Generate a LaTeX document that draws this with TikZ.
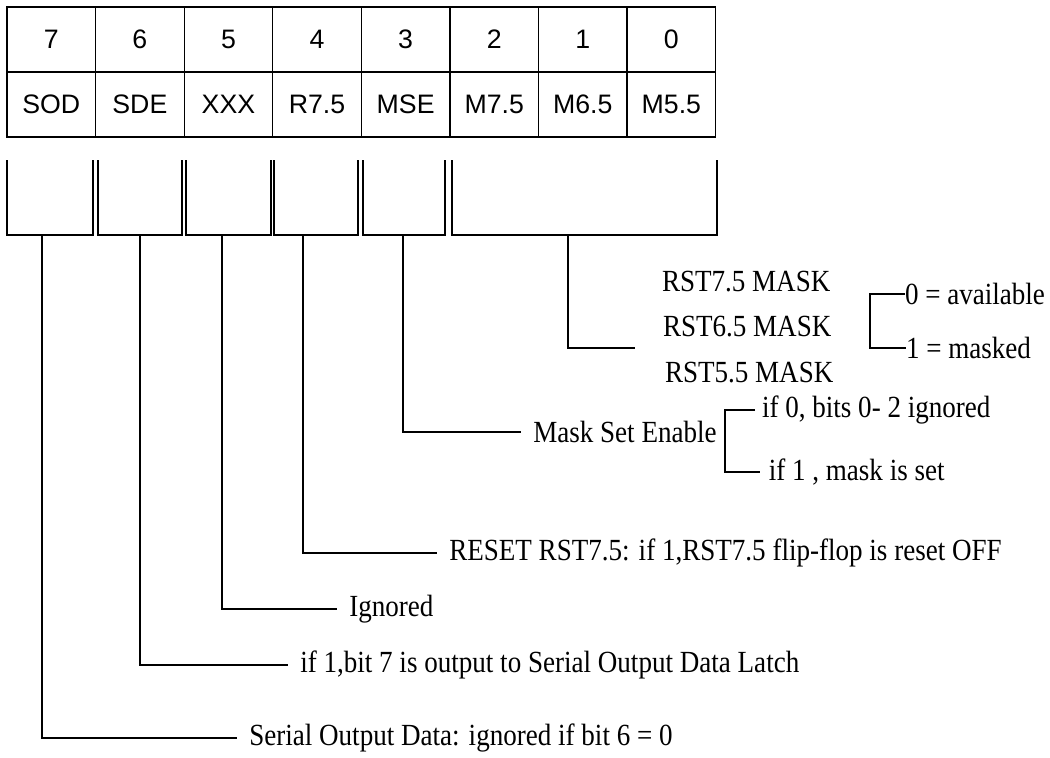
\documentclass[tikz,border=0pt]{standalone}
\usepackage{fontspec}
\setmainfont{Liberation Serif}[FakeStretch=0.88]
\newfontfamily\cellfont{Liberation Sans}
\usetikzlibrary{positioning}

\begin{document}
\begin{tikzpicture}[x=0.02cm, y=-0.02cm,
  cell/.style={draw, rectangle, line width=0.7pt, minimum width=1.772cm, minimum height=1.3cm, inner sep=0pt, outer sep=0pt, font=\cellfont\fontsize{15.2}{18}\selectfont},
  note/.style={anchor=west, inner sep=0pt, outer xsep=7pt, font=\fontsize{17.5}{20}\selectfont},
  lead/.style={line width=1pt}
]
\useasboundingbox (0,0) rectangle (1050,757);

% bit numbers
\node[cell, anchor=north west] (b7) at (7,7) {7};
\node[cell, right=0pt of b7] (b6) {6};
\node[cell, right=0pt of b6] (b5) {5};
\node[cell, right=0pt of b5] (b4) {4};
\node[cell, right=0pt of b4] (b3) {3};
\node[cell, right=0pt of b3] (b2) {2};
\node[cell, right=0pt of b2] (b1) {1};
\node[cell, right=0pt of b1] (b0) {0};
% field names
\node[cell, below=0pt of b7] (sod) {SOD};
\node[cell, right=0pt of sod] (sde) {SDE};
\node[cell, right=0pt of sde] (xxx) {XXX};
\node[cell, right=0pt of xxx] (r75) {R7.5};
\node[cell, right=0pt of r75] (mse) {MSE};
\node[cell, right=0pt of mse] (m75) {M7.5};
\node[cell, right=0pt of m75] (m65) {M6.5};
\node[cell, right=0pt of m65] (m55) {M5.5};

% brackets under the fields
\draw[lead] (7,160) |- (93,235) -- (93,160);
\draw[lead] (98,160) |- (182,235) -- (182,160);
\draw[lead] (186,160) |- (271,235) -- (271,160);
\draw[lead] (274,160) |- (358,235) -- (358,160);
\draw[lead] (363,160) |- (445,235) -- (445,160);
\draw[lead] (452,160) |- (717,235) -- (717,160);
\coordinate (s7) at (42,235);
\coordinate (s6) at (140,235);
\coordinate (s5) at (222,235);
\coordinate (s4) at (303,235);
\coordinate (s3) at (403,235);
\coordinate (s2) at (568,235);

% mask bits
\node[note, outer xsep=0pt] (rst75) at (662,282) {RST7.5 MASK};
\node[note, outer xsep=0pt] (rst65) at (663,327) {RST6.5 MASK};
\node[note, outer xsep=0pt] (rst55) at (665,373) {RST5.5 MASK};
\coordinate (mend) at (635,348);
\draw[lead] (s2) |- (mend);
\node[note, outer xsep=0pt] (avail) at (905,294) {0 = available};
\node[note, outer xsep=0pt] (masked) at (906,348) {1 = masked};
\coordinate (abr) at (870,320);
\draw[lead] (avail.west) -| (abr) |- (masked.west);

% mask set enable
\node[note] (msetxt) at (521,432) {Mask Set Enable};
\draw[lead] (s3) |- (msetxt.west);
\node[note, outer xsep=4pt] (ifz) at (755,410) {if 0, bits 0- 2 ignored};
\node[note, outer xsep=5pt] (ifo) at (760,472) {if 1 , mask is set};
\coordinate (mbr) at (725,440);
\draw[lead] (ifz.west) -| (mbr) |- (ifo.west);

% remaining bits
\node[note] (r75txt) at (437,553) {RESET RST7.5: if 1,RST7.5 flip-flop is reset OFF};
\draw[lead] (s4) |- (r75txt.west);
\node[note] (xxxtxt) at (337,609) {Ignored};
\draw[lead] (s5) |- (xxxtxt.west);
\node[note] (sdetxt) at (288,665) {if 1,bit 7 is output to Serial Output Data Latch};
\draw[lead] (s6) |- (sdetxt.west);
\node[note] (sodtxt) at (237,738) {Serial Output Data: ignored if bit 6 = 0};
\draw[lead] (s7) |- (sodtxt.west);
\end{tikzpicture}
\end{document}
